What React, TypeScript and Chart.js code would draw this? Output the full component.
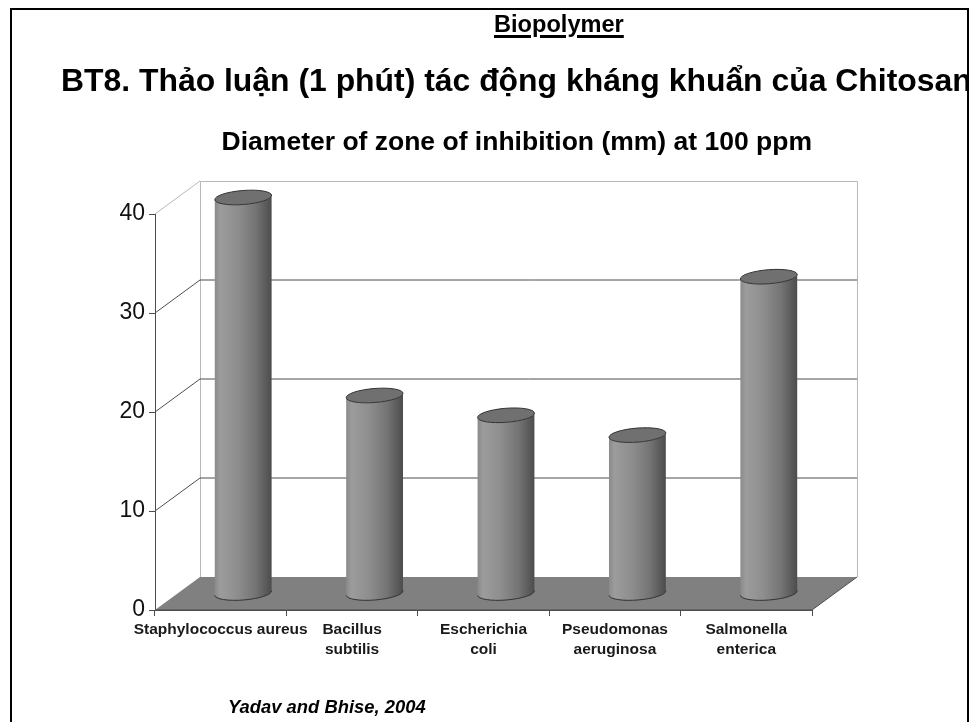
import React, { useEffect, useRef } from "react";
import { Chart, registerables } from "chart.js";

Chart.register(...registerables);

const FONT = '"Liberation Sans", Arial, sans-serif';

const slideHeading = "Biopolymer";
const slideTitle = "BT8. Thảo luận (1 phút) tác động kháng khuẩn của Chitosan";
const chartTitle = "Diameter of zone of inhibition (mm) at 100 ppm";
const sourceNote = "Yadav and Bhise, 2004";

const categories: string[][] = [
  ["Staphylococcus aureus"],
  ["Bacillus", "subtilis"],
  ["Escherichia", "coli"],
  ["Pseudomonas", "aeruginosa"],
  ["Salmonella", "enterica"],
];
const inhibitionValues = [40, 20, 18, 16, 32];
const yTicks = [0, 10, 20, 30, 40];

const DEPTH_X = 45;
const DEPTH_Y = 33;
const RADIUS_X = 28.5;
const RADIUS_Y = 7;
const TILT = -0.08;

const chart3d = {
  id: "chart3d",
  beforeDatasetsDraw(chart: any) {
    const { ctx, chartArea, scales } = chart;
    const { left, right, bottom } = chartArea;
    const y = scales.y;
    ctx.save();
    ctx.fillStyle = "#808080";
    ctx.beginPath();
    ctx.moveTo(left, bottom);
    ctx.lineTo(left + DEPTH_X, bottom - DEPTH_Y);
    ctx.lineTo(right + DEPTH_X, bottom - DEPTH_Y);
    ctx.lineTo(right, bottom);
    ctx.closePath();
    ctx.fill();
    const topY = y.getPixelForValue(40);
    ctx.lineWidth = 1;
    ctx.strokeStyle = "#b8b8b8";
    ctx.beginPath();
    ctx.moveTo(left + DEPTH_X + 0.5, bottom - DEPTH_Y);
    ctx.lineTo(left + DEPTH_X + 0.5, topY - DEPTH_Y + 0.5);
    ctx.lineTo(right + DEPTH_X + 0.5, topY - DEPTH_Y + 0.5);
    ctx.lineTo(right + DEPTH_X + 0.5, bottom - DEPTH_Y);
    ctx.moveTo(left, topY);
    ctx.lineTo(left + DEPTH_X, topY - DEPTH_Y);
    ctx.stroke();
    ctx.strokeStyle = "#4d4d4d";
    ctx.beginPath();
    for (const v of yTicks) {
      if (v === 0 || v === 40) continue;
      const py = y.getPixelForValue(v);
      ctx.moveTo(left, py);
      ctx.lineTo(left + DEPTH_X, py - DEPTH_Y);
      ctx.lineTo(right + DEPTH_X, py - DEPTH_Y);
    }
    ctx.stroke();
    ctx.beginPath();
    ctx.moveTo(left, bottom);
    ctx.lineTo(right, bottom);
    ctx.lineTo(right + DEPTH_X, bottom - DEPTH_Y);
    ctx.stroke();
    ctx.restore();
  },
  afterDatasetsDraw(chart: any) {
    const { ctx } = chart;
    const meta = chart.getDatasetMeta(0);
    ctx.save();
    meta.data.forEach((bar: any) => {
      const cx = bar.x + DEPTH_X / 2;
      const topC = bar.y - DEPTH_Y / 2;
      const baseC = bar.base - DEPTH_Y / 2;
      const l = cx - RADIUS_X;
      const r = cx + RADIUS_X;
      const g = ctx.createLinearGradient(l, 0, r, 0);
      g.addColorStop(0, "#8a8a8a");
      g.addColorStop(0.1, "#9c9c9c");
      g.addColorStop(0.4, "#8e8e8e");
      g.addColorStop(0.72, "#747474");
      g.addColorStop(1, "#4c4c4c");
      ctx.beginPath();
      ctx.ellipse(cx, topC, RADIUS_X, RADIUS_Y, TILT, Math.PI, 0, true);
      ctx.ellipse(cx, baseC, RADIUS_X, RADIUS_Y, TILT, 0, Math.PI, false);
      ctx.closePath();
      ctx.fillStyle = g;
      ctx.fill();
      ctx.strokeStyle = "#333333";
      ctx.lineWidth = 1;
      ctx.beginPath();
      ctx.ellipse(cx, baseC, RADIUS_X, RADIUS_Y, TILT, 0, Math.PI, false);
      ctx.stroke();
      ctx.beginPath();
      ctx.ellipse(cx, topC, RADIUS_X, RADIUS_Y, TILT, 0, Math.PI * 2);
      ctx.fillStyle = "#707070";
      ctx.fill();
      ctx.stroke();
    });
    ctx.restore();
  },
};

export default function App() {
  const ref = useRef<HTMLCanvasElement>(null);
  useEffect(() => {
    document.body.style.margin = "0";
    const chart = new Chart(ref.current as HTMLCanvasElement, {
      type: "bar",
      data: {
        labels: categories as any,
        datasets: [
          {
            label: "Zone of inhibition (mm)",
            data: inhibitionValues,
            backgroundColor: "rgba(0,0,0,0)",
            borderWidth: 0,
          },
        ],
      },
      options: {
        responsive: false,
        animation: false,
        layout: { padding: { top: 127, right: 157, left: 0, bottom: 0 } },
        plugins: {
          legend: { display: false },
          tooltip: { enabled: false },
          title: {
            display: true,
            text: chartTitle,
            align: "end",
            fullSize: false,
            color: "#000",
            font: { family: FONT, size: 26.5, weight: "bold", lineHeight: 1.2 },
            padding: { top: 0, bottom: 55.2 },
          },
        },
        scales: {
          x: {
            afterFit: (s: any) => {
              s.height = 112;
            },
            grid: {
              drawOnChartArea: false,
              tickLength: 6,
              color: "#4d4d4d",
            },
            border: { color: "#4d4d4d" },
            ticks: {
              autoSkip: false,
              maxRotation: 0,
              minRotation: 0,
              padding: 4,
              color: "#1a1a1a",
              font: { family: FONT, size: 15.5, weight: "bold", lineHeight: 1.29 },
            },
          },
          y: {
            min: 0,
            max: 40,
            afterFit: (s: any) => {
              s.width = 155;
            },
            afterBuildTicks: (s: any) => {
              s.ticks = yTicks.map((value) => ({ value }));
            },
            grid: {
              drawOnChartArea: false,
              tickLength: 6,
              color: "#4d4d4d",
            },
            border: { color: "#4d4d4d" },
            ticks: {
              padding: 4,
              color: "#111",
              font: { family: FONT, size: 23 },
            },
          },
        },
      },
      plugins: [chart3d],
    } as any);
    return () => chart.destroy();
  }, []);

  const box: React.CSSProperties = {
    position: "absolute",
    fontFamily: FONT,
    fontWeight: "bold",
    color: "#000",
    whiteSpace: "nowrap",
    lineHeight: 1,
  };

  return (
    <div style={{ position: "relative", width: 969, height: 722, overflow: "hidden", background: "#fff" }}>
      <canvas ref={ref} width={969} height={722} style={{ position: "absolute", left: 0, top: 0 }} />
      <div
        style={{
          position: "absolute",
          left: 10,
          top: 8,
          width: 955,
          height: 800,
          border: "2px solid #000",
          overflow: "hidden",
        }}
      >
        <div
          style={{
            ...box,
            left: 482,
            top: 3,
            fontSize: 23.6,
            textDecoration: "underline",
            textDecorationThickness: 3,
            textUnderlineOffset: 3,
          }}
        >
          {slideHeading}
        </div>
        <div style={{ ...box, left: 49, top: 55, fontSize: 31.9 }}>{slideTitle}</div>
        <div style={{ ...box, left: 216, top: 688, fontSize: 18.4, fontStyle: "italic" }}>{sourceNote}</div>
      </div>
    </div>
  );
}
